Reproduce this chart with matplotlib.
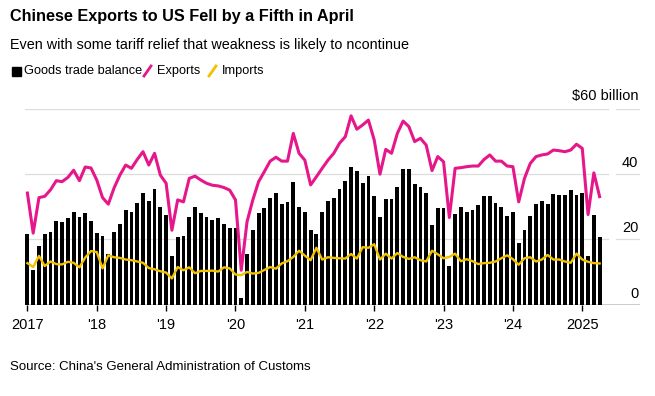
import matplotlib.pyplot as plt
import numpy as np

plt.rcParams['font.family'] = ['Liberation Sans', 'DejaVu Sans']

# monthly values, Jan 2017 - Apr 2025, $ billion
balance = [
    21.6, 10.5, 17.9, 21.5, 22.1, 25.5, 25.3, 26.4, 28.3, 26.8, 28.0, 25.6,
    22.0, 21.1, 15.4, 22.3, 24.7, 29.1, 28.3, 31.2, 34.3, 31.8, 35.6, 29.9,
    27.4, 14.8, 20.6, 21.1, 27.0, 30.0, 28.1, 27.0, 26.0, 26.5, 24.7, 23.5,
    23.5, 1.9, 15.4, 22.9, 28.0, 29.5, 32.6, 34.3, 30.8, 31.4, 37.6, 30.0,
    28.3, 23.0, 21.5, 28.3, 31.9, 32.8, 35.6, 37.9, 42.2, 41.1, 37.2, 39.4,
    33.3, 26.9, 32.5, 32.5, 36.2, 41.6, 41.7, 37.0, 36.2, 34.3, 24.5, 29.6,
    29.6, 11.9, 27.7, 29.9, 28.3, 28.9, 30.4, 33.3, 33.3, 31.0, 29.9, 27.3,
    28.4, 18.9, 23.0, 27.3, 30.8, 31.8, 30.8, 33.8, 33.5, 33.5, 35.0, 33.6,
    34.3, 14.8, 27.6, 20.6,
]
exports = [
    34.2, 21.9, 32.8, 33.2, 35.2, 38.0, 37.7, 39.0, 41.2, 38.0, 42.2, 41.9,
    38.2, 32.8, 30.8, 35.8, 39.7, 42.8, 41.8, 44.5, 46.9, 42.8, 46.4, 39.7,
    37.2, 22.8, 32.1, 31.5, 38.7, 39.4, 38.2, 37.2, 36.6, 36.4, 35.9, 35.1,
    32.1, 10.5, 25.4, 32.1, 37.7, 40.8, 44.0, 45.2, 44.0, 44.0, 52.5, 46.4,
    44.3, 36.7, 39.2, 41.8, 44.3, 46.4, 49.5, 51.5, 57.9, 53.8, 55.1, 56.6,
    50.5, 40.0, 47.6, 46.4, 52.5, 56.3, 54.6, 50.0, 51.0, 48.9, 41.1, 45.4,
    43.8, 26.7, 41.8, 42.0, 42.3, 42.5, 42.5, 44.5, 45.9, 44.0, 44.0, 42.5,
    42.3, 31.5, 38.7, 43.3, 45.4, 45.9, 46.2, 47.4, 47.2, 46.9, 47.4, 49.2,
    47.9, 27.6, 40.4, 33.1,
]
imports = [
    12.7, 11.5, 14.9, 11.8, 13.2, 12.4, 12.3, 13.1, 12.8, 11.4, 14.4, 16.4,
    16.1, 11.1, 15.1, 14.5, 14.3, 13.8, 13.6, 13.2, 12.8, 11.2, 10.8, 10.2,
    9.8, 8.0, 11.5, 10.5, 11.4, 9.6, 10.3, 10.3, 10.4, 10.1, 11.4, 11.1,
    9.2, 9.0, 10.0, 9.5, 9.7, 10.6, 11.5, 11.0, 12.6, 13.3, 14.6, 16.5,
    15.0, 13.6, 17.4, 13.8, 14.5, 14.3, 14.2, 14.1, 15.5, 14.1, 17.6, 17.4,
    18.5, 13.8, 15.6, 14.1, 15.8, 14.6, 14.0, 14.5, 13.6, 13.2, 16.5, 15.4,
    14.2, 14.6, 15.6, 13.3, 13.9, 13.3, 12.4, 12.7, 12.8, 13.2, 14.2, 15.1,
    13.9, 12.2, 14.2, 14.5, 13.2, 13.8, 15.2, 13.8, 13.8, 13.2, 12.8, 15.6,
    13.8, 13.1, 12.7, 12.6,
]
year_labels = ['2017', "'18", "'19", "'20", "'21", "'22", "'23", "'24", '2025']
y_ticks = [0, 20, 40]

PINK = '#e6178a'
YELLOW = '#f2c100'

W, H = 655, 396
fig = plt.figure(figsize=(W / 100, H / 100), dpi=100)

# axes placed in pixel coords: month 0 at x=27.4, 5.78 px per month
x0, dx = 27.4, 5.78
left_px, right_px = 25, 640
y0_px, y60_px = 304.5, 109
ax = fig.add_axes([left_px / W, (H - y0_px) / H,
                   (right_px - left_px) / W, (y0_px - y60_px) / H])
ax.set_xlim((left_px - x0) / dx, (right_px - x0) / dx)
ax.set_ylim(0, 60)

months = np.arange(len(balance))

# gridlines, with a small gap before the label area
grid_end = (608 - left_px) / (right_px - left_px)
grid_start2 = (616 - left_px) / (right_px - left_px)
for v in [20, 40, 60]:
    ax.axhline(v, 0, grid_end, color='#dddddd', lw=0.9, zorder=0)
    ax.axhline(v, grid_start2, 1, color='#dddddd', lw=0.9, zorder=0)

ax.bar(months, balance, width=0.66, color='black', zorder=2)
ax.plot(months, imports, color=YELLOW, lw=1.7, zorder=3, solid_joinstyle='round')
ax.plot(months, exports, color=PINK, lw=2.2, zorder=4, solid_joinstyle='round')

ax.axhline(0, color='black', lw=1.0, zorder=5)

for s in ax.spines.values():
    s.set_visible(False)
ax.set_yticks([])
ax.set_xticks(np.arange(0, len(balance), 12))
ax.set_xticklabels(year_labels, fontsize=10.5)
ax.tick_params(axis='x', length=4, width=1, color='black', pad=6)

# y labels on the right, above the gridlines
for v in y_ticks:
    ax.text(0.997, v + 1.2, str(v), transform=ax.get_yaxis_transform(),
            ha='right', va='bottom', fontsize=10.5)
ax.text(0.997, 60 + 1.8, '$60 billion', transform=ax.get_yaxis_transform(),
        ha='right', va='bottom', fontsize=10.5)

# titles
fig.text(10 / W, 1 - 17 / H, 'Chinese Exports to US Fell by a Fifth in April',
         fontsize=11.7, fontweight='bold', va='center')
fig.text(10 / W, 1 - 45 / H,
         'Even with some tariff relief that weakness is likely to ncontinue',
         fontsize=10.4, va='center')

# legend row
ly = 1 - 71 / H
fig.patches.append(plt.Rectangle((12 / W, 1 - 76 / H), 9 / W, 9 / H,
                                 color='black', transform=fig.transFigure))
fig.text(24 / W, ly, 'Goods trade balance', fontsize=9.2, va='center')
fig.lines.append(plt.Line2D([144 / W, 151 / W], [1 - 76 / H, 1 - 66 / H],
                            color=PINK, lw=2, transform=fig.transFigure))
fig.text(157 / W, ly, 'Exports', fontsize=9.2, va='center')
fig.lines.append(plt.Line2D([209 / W, 216 / W], [1 - 76 / H, 1 - 66 / H],
                            color=YELLOW, lw=2, transform=fig.transFigure))
fig.text(222 / W, ly, 'Imports', fontsize=9.2, va='center')

fig.text(10 / W, 1 - 367 / H, "Source: China's General Administration of Customs",
         fontsize=9.5, va='center')

fig.savefig('out.png', dpi=100)
